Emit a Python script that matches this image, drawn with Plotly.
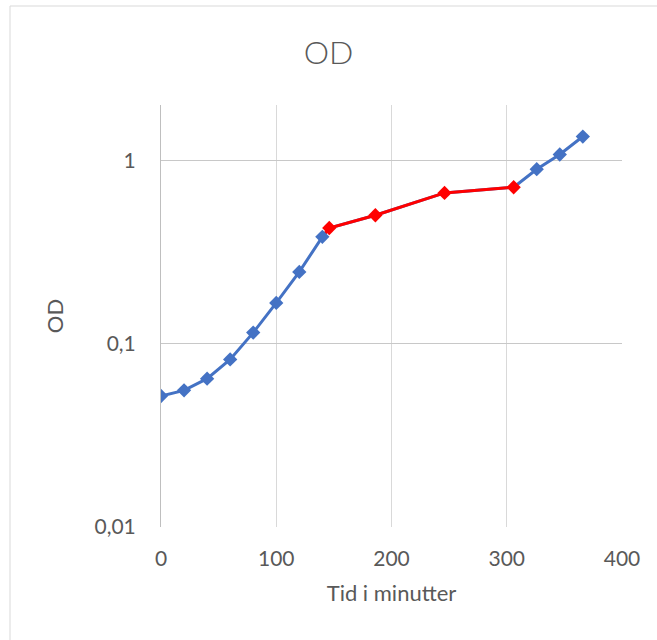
import plotly.graph_objects as go

time_min = [0, 20, 40, 60, 80, 100, 120, 140, 146, 186, 246, 306, 326, 346, 366]
od = [0.0518, 0.0556, 0.0644, 0.082, 0.1148, 0.1666, 0.246, 0.382, 0.427, 0.501, 0.663, 0.712, 0.893, 1.074, 1.346]
is_red = [False]*8 + [True]*4 + [False]*3

BLUE = "#4472C4"
RED = "#FF0000"
GRAY = "#595959"

fig = go.Figure()
fig.add_trace(go.Scatter(x=time_min, y=od, mode="lines",
                         line=dict(color=BLUE, width=3), showlegend=False, hoverinfo="skip"))
red_idx = [i for i, r in enumerate(is_red) if r]
seg = list(range(red_idx[0]-1, red_idx[-1]+1))
fig.add_trace(go.Scatter(x=[time_min[i] for i in seg], y=[od[i] for i in seg], mode="lines",
                         line=dict(color=RED, width=3), showlegend=False, hoverinfo="skip"))
fig.add_trace(go.Scatter(x=time_min, y=od, mode="markers",
                         marker=dict(symbol="diamond", size=11,
                                     color=[RED if r else BLUE for r in is_red]),
                         showlegend=False))

font_family = "Lato, Open Sans, sans-serif"
fig.update_layout(
    width=657, height=640,
    margin=dict(l=161, r=35, t=105, b=113),
    paper_bgcolor="white", plot_bgcolor="white",
    font=dict(family=font_family, color=GRAY, size=21),
    title=dict(text="OD", x=0.5, xanchor="center", y=1 - 53/640, yanchor="middle",
               font=dict(size=32, color=GRAY, family=font_family, weight=300)),
    xaxis=dict(range=[0, 400], tickvals=[0, 100, 200, 300, 400],
               showgrid=True, gridcolor="#D9D9D9", gridwidth=1, zeroline=False,
               showline=False, ticks="outside", ticklen=13, tickcolor="rgba(0,0,0,0)",
               tickfont=dict(size=21, color=GRAY),
               title=dict(text="Tid i minutter", font=dict(size=22, color=GRAY), standoff=16)),
    yaxis=dict(type="log", range=[-2, 0.30103], tickvals=[0.01, 0.1, 1],
               ticktext=["0,01", "0,1", "1"],
               showgrid=True, gridcolor="#C8C8C8", gridwidth=1, zeroline=False,
               showline=True, linecolor="#BFBFBF", linewidth=1,
               ticks="outside", ticklen=20, tickcolor="rgba(0,0,0,0)",
               tickfont=dict(size=21, color=GRAY),
               title=dict(text="OD", font=dict(size=22, color=GRAY), standoff=24)),
    shapes=[dict(type="rect", xref="paper", yref="paper",
                 x0=(10-161)/461, x1=(665-161)/461, y0=(527-650)/422, y1=(527-6)/422,
                 line=dict(color="#D9D9D9", width=1), fillcolor="rgba(0,0,0,0)", layer="below")],
)

fig.write_html("out.html")
